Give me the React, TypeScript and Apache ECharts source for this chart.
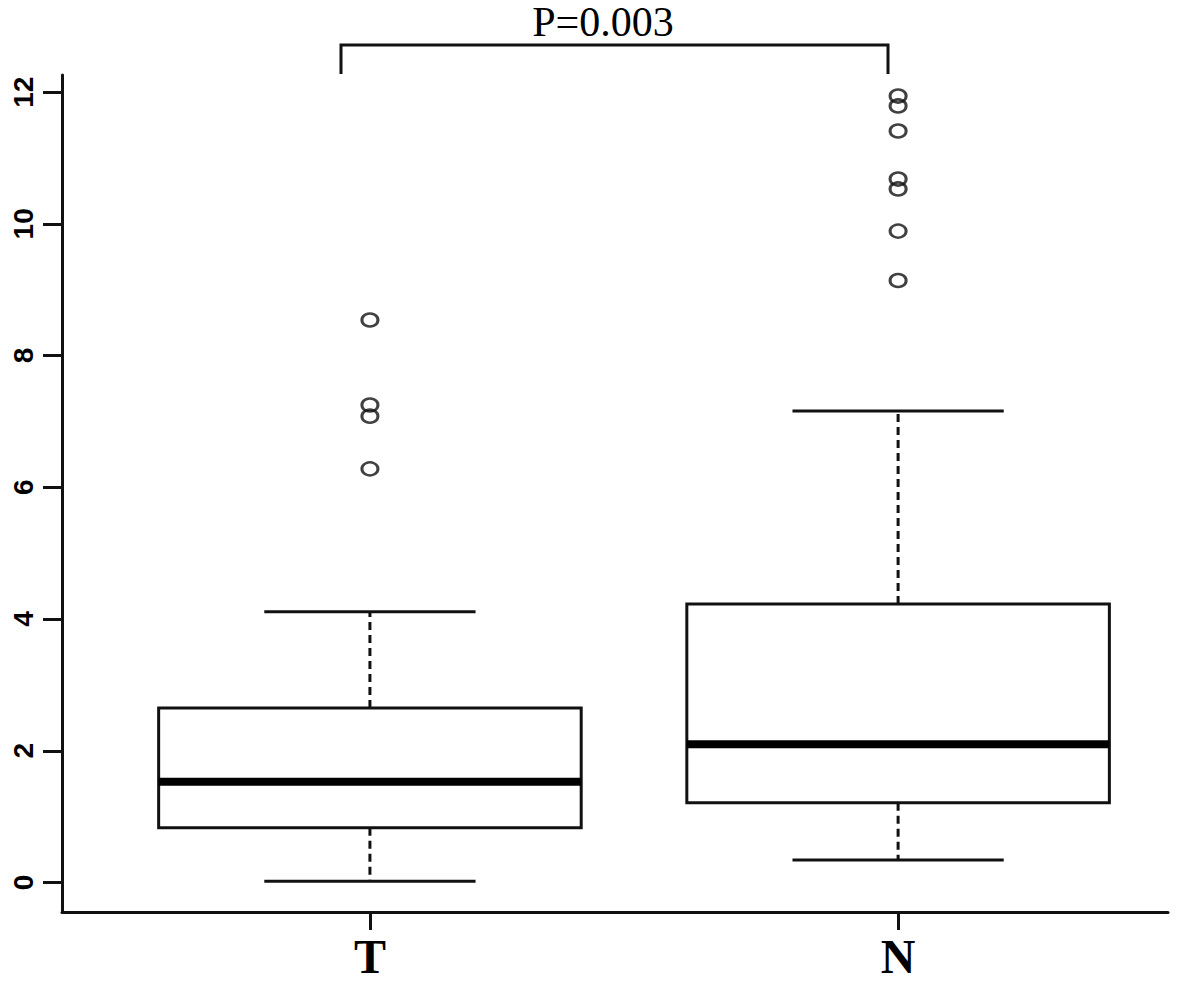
import React, { useEffect, useRef } from "react";
import * as echarts from "echarts";

const categories = ["T", "N"];
const lowerWhisker = [0.02, 0.34];
const q1 = [0.83, 1.21];
const median = [1.53, 2.1];
const q3 = [2.65, 4.23];
const upperWhisker = [4.11, 7.16];
const outliersT = [8.54, 7.25, 7.08, 6.28];
const outliersN = [11.94, 11.79, 11.41, 10.68, 10.53, 9.89, 9.14];
const yTicks = [0, 2, 4, 6, 8, 10, 12];
const pLabel = "P=0.003";

const BOX_WIDTH = 0.8;

export default function App() {
  const ref = useRef<HTMLDivElement>(null);
  useEffect(() => {
    if (!ref.current) return;
    const chart = echarts.init(ref.current, null, { renderer: "svg" });
    const boxData = categories.map((_, i) => [
      i + 1,
      lowerWhisker[i],
      q1[i],
      median[i],
      q3[i],
      upperWhisker[i],
    ]);
    const outlierData = [
      ...outliersT.map((v) => [1, v]),
      ...outliersN.map((v) => [2, v]),
    ];
    const stroke = "#111";
    chart.setOption({
      animation: false,
      backgroundColor: "#fff",
      grid: { left: 62, right: 13, top: 75, bottom: 71, containLabel: false, outerBoundsMode: "none" },
      xAxis: {
        type: "value",
        min: 0.417,
        max: 2.511,
        splitLine: { show: false },
        axisLine: { show: true, onZero: false, lineStyle: { color: stroke, width: 3 } },
        axisTick: { show: true, customValues: [1, 2], length: 18, lineStyle: { color: stroke, width: 3 } },
        axisLabel: {
          customValues: [1, 2],
          formatter: (v: number) => categories[Math.round(v) - 1] ?? "",
          margin: 24,
          color: "#000",
          fontFamily: "Liberation Serif",
          fontWeight: "bold",
          fontSize: 48,
          lineHeight: 40,
        },
      },
      yAxis: {
        type: "value",
        min: -0.448,
        max: 12.26,
        splitLine: { show: false },
        axisLine: { show: true, onZero: false, lineStyle: { color: stroke, width: 3 } },
        axisTick: { show: true, customValues: yTicks, length: 19, lineStyle: { color: stroke, width: 3 } },
        axisLabel: {
          customValues: yTicks,
          rotate: 90,
          margin: 25,
          color: "#000",
          fontFamily: "Liberation Sans",
          fontWeight: "bold",
          fontSize: 28,
        },
      },
      graphic: [
        {
          type: "polyline",
          shape: { points: [[341, 74], [341, 45], [888, 45], [888, 74]] },
          style: { stroke: stroke, lineWidth: 3, fill: null },
        },
        {
          type: "text",
          x: 603,
          y: 22,
          style: {
            text: pLabel,
            fill: "#000",
            fontFamily: "Liberation Serif",
            fontSize: 42,
            align: "center",
            verticalAlign: "middle",
          },
        },
      ],
      series: [
        {
          type: "custom",
          data: boxData,
          encode: { x: 0, y: [1, 2, 3, 4, 5] },
          renderItem: (params: any, api: any) => {
            const x = api.value(0);
            const lo = api.coord([x, api.value(1)]);
            const b1 = api.coord([x, api.value(2)]);
            const md = api.coord([x, api.value(3)]);
            const b3 = api.coord([x, api.value(4)]);
            const hi = api.coord([x, api.value(5)]);
            const halfBox = api.size([BOX_WIDTH, 0])[0] / 2;
            const halfCap = halfBox / 2;
            const cx = lo[0];
            const dashStyle = { stroke: stroke, lineWidth: 3, lineDash: [8, 5] };
            const solid = { stroke: stroke, lineWidth: 3 };
            return {
              type: "group",
              children: [
                { type: "line", shape: { x1: cx, y1: b3[1], x2: cx, y2: hi[1] }, style: dashStyle },
                { type: "line", shape: { x1: cx, y1: b1[1], x2: cx, y2: lo[1] }, style: dashStyle },
                { type: "line", shape: { x1: cx - halfCap, y1: hi[1], x2: cx + halfCap, y2: hi[1] }, style: solid },
                { type: "line", shape: { x1: cx - halfCap, y1: lo[1], x2: cx + halfCap, y2: lo[1] }, style: solid },
                {
                  type: "rect",
                  shape: { x: cx - halfBox, y: b3[1], width: 2 * halfBox, height: b1[1] - b3[1] },
                  style: { fill: "#fff", stroke: stroke, lineWidth: 3 },
                },
                {
                  type: "line",
                  shape: { x1: cx - halfBox, y1: md[1], x2: cx + halfBox, y2: md[1] },
                  style: { stroke: "#000", lineWidth: 8 },
                },
              ],
            };
          },
        },
        {
          type: "scatter",
          data: outlierData,
          symbol: "circle",
          symbolSize: [16, 13],
          itemStyle: { color: "transparent", borderColor: "#111", borderWidth: 2.8 },
        },
      ],
    });
    return () => chart.dispose();
  }, []);
  return (
    <div
      ref={ref}
      style={{ position: "fixed", left: 0, top: 0, width: 1181, height: 983, background: "#fff" }}
    />
  );
}
